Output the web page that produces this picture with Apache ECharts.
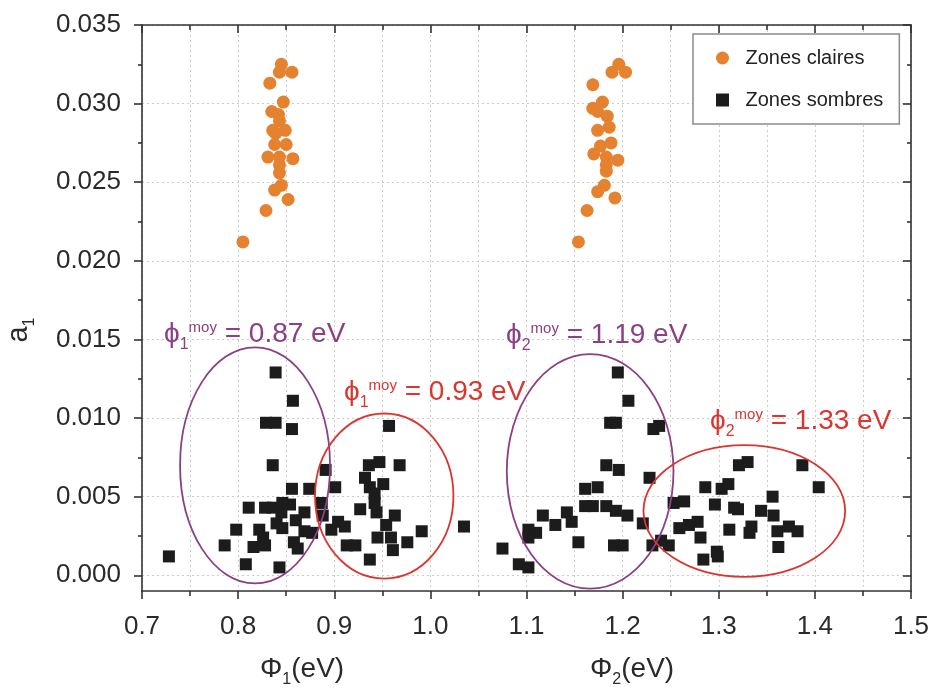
<!DOCTYPE html>
<html><head><meta charset="utf-8">
<script src="https://cdn.jsdelivr.net/npm/echarts@6/dist/echarts.min.js"></script>
<style>html,body{margin:0;padding:0;background:#fff}#c{width:933px;height:692px}</style>
</head><body><div id="c"></div>
<script>
const FONT = "'Liberation Sans', Arial, sans-serif";
const seriesNames = ['Zones claires', 'Zones sombres'];
const yMajorTicks = [0, 0.005, 0.010, 0.015, 0.020, 0.025, 0.030, 0.035];
const yMinorTicks = [0.0025, 0.0075, 0.0125, 0.0175, 0.0225, 0.0275, 0.0325];

const claires = [
  [0.845,0.0325],[0.843,0.0320],[0.856,0.0320],[0.833,0.0313],[0.847,0.0301],[0.835,0.0295],
  [0.842,0.0293],[0.843,0.0289],[0.836,0.0283],[0.849,0.0283],[0.839,0.0281],[0.838,0.0274],
  [0.850,0.0274],[0.831,0.0266],[0.843,0.0266],[0.857,0.0265],[0.843,0.0261],[0.843,0.0256],
  [0.845,0.0248],[0.838,0.0245],[0.852,0.0239],[0.829,0.0232],[0.805,0.0212],
  [1.196,0.0325],[1.189,0.0320],[1.203,0.0320],[1.169,0.0312],[1.179,0.0301],[1.169,0.0297],
  [1.174,0.0295],[1.184,0.0292],[1.186,0.0285],[1.174,0.0283],[1.188,0.0275],[1.177,0.0273],
  [1.170,0.0268],[1.183,0.0266],[1.195,0.0264],[1.183,0.0261],[1.183,0.0257],[1.181,0.0248],
  [1.174,0.0244],[1.192,0.0240],[1.163,0.0232],[1.154,0.0212]
];

const sombres = [
  [0.728,0.0012],[0.839,0.0129],[0.857,0.0111],[0.829,0.0097],[0.839,0.0097],[0.856,0.0093],
  [0.836,0.0070],[0.856,0.0055],[0.874,0.0055],[0.891,0.0067],[0.901,0.0056],[0.811,0.0043],
  [0.828,0.0043],[0.836,0.0043],[0.846,0.0046],[0.854,0.0045],[0.845,0.0040],[0.869,0.0040],
  [0.887,0.0046],[0.888,0.0038],[0.798,0.0029],[0.822,0.0029],[0.840,0.0033],[0.846,0.0030],
  [0.860,0.0035],[0.869,0.0028],[0.877,0.0027],[0.897,0.0029],[0.904,0.0034],[0.911,0.0031],
  [0.786,0.0019],[0.816,0.0018],[0.826,0.0024],[0.828,0.0019],[0.858,0.0021],[0.862,0.0017],
  [0.808,0.0007],[0.843,0.0005],[0.913,0.0019],[0.922,0.0019],[0.927,0.0042],[0.936,0.0070],
  [0.947,0.0072],[0.968,0.0070],[0.957,0.0095],[0.932,0.0062],[0.937,0.0056],[0.951,0.0058],
  [0.942,0.0052],[0.942,0.0046],[0.944,0.0040],[0.963,0.0038],[0.954,0.0032],[0.945,0.0024],
  [0.959,0.0024],[0.961,0.0016],[0.976,0.0021],[0.991,0.0028],[0.937,0.0010],[1.035,0.0031],
  [1.075,0.0017],[1.092,0.0007],[1.102,0.0005],[1.102,0.0029],[1.110,0.0027],[1.102,0.0024],
  [1.117,0.0038],[1.130,0.0032],[1.142,0.0040],[1.147,0.0034],[1.154,0.0021],[1.161,0.0055],
  [1.174,0.0056],[1.161,0.0044],[1.169,0.0044],[1.183,0.0044],[1.193,0.0041],[1.205,0.0038],
  [1.191,0.0019],[1.200,0.0019],[1.183,0.0070],[1.196,0.0067],[1.195,0.0129],[1.206,0.0111],
  [1.187,0.0097],[1.193,0.0097],[1.232,0.0093],[1.238,0.0095],[1.228,0.0062],[1.221,0.0033],
  [1.231,0.0019],[1.240,0.0022],[1.248,0.0019],[1.253,0.0046],[1.264,0.0047],[1.259,0.0030],
  [1.269,0.0032],[1.278,0.0034],[1.281,0.0024],[1.286,0.0056],[1.284,0.0010],[1.298,0.0015],
  [1.299,0.0012],[1.296,0.0045],[1.303,0.0055],[1.310,0.0058],[1.311,0.0029],[1.316,0.0043],
  [1.320,0.0042],[1.321,0.0070],[1.330,0.0072],[1.332,0.0027],[1.334,0.0031],[1.344,0.0041],
  [1.356,0.0050],[1.357,0.0038],[1.361,0.0028],[1.362,0.0018],[1.373,0.0031],[1.382,0.0028],
  [1.387,0.0070],[1.404,0.0056]
];

// ellipse annotations: [centerX, centerY, radiusX, radiusY] in data units
const ellipses = [
  [0.8176, 0.00699, 0.0780, 0.00751],
  [0.9520, 0.00504, 0.0720, 0.00525],
  [1.1662, 0.00661, 0.0867, 0.00746],
  [1.3266, 0.00409, 0.1049, 0.00419]
];
const annotationSub = ['1', '1', '2', '2'];
const annotationValues = ['0.87', '0.93', '1.19', '1.33'];

const PURPLE = '#8c3f82';
const RED = '#db3530';
const ellipseColors = [PURPLE, RED, PURPLE, RED];
const annotationPos = [[164, 334], [344, 392], [506, 335], [710, 421]];

const chart = echarts.init(document.getElementById('c'), null, {renderer: 'canvas'});

const axisLineStyle = {color: '#333', width: 1.6};
const gridLineStyle = {color: '#cccccc', type: [2, 3], width: 1};

function annotText(i) {
  return {
    type: 'text', x: annotationPos[i][0], y: annotationPos[i][1], z: 100,
    style: {
      text: '{p|ϕ}{s|' + annotationSub[i] + '}{u|moy}{t| = ' + annotationValues[i] + ' eV}',
      verticalAlign: 'middle', align: 'left',
      rich: {
        p: {fontSize: 28, fontFamily: FONT, fill: ellipseColors[i]},
        s: {fontSize: 16, fontFamily: FONT, fill: ellipseColors[i], padding: [22, 0, 0, 0]},
        u: {fontSize: 15, fontFamily: FONT, fill: ellipseColors[i], padding: [0, 0, 12, 0]},
        t: {fontSize: 28, fontFamily: FONT, fill: ellipseColors[i], lineHeight: 44}
      }
    }
  };
}

function axisNameText(x, sub) {
  return {
    type: 'text', x: x, y: 669,
    style: {
      text: '{b|Φ}{s|' + sub + '}{b|(eV)}',
      verticalAlign: 'middle', align: 'left',
      rich: {
        b: {fontSize: 28, fontFamily: FONT, fill: '#2a2a2a', lineHeight: 44},
        s: {fontSize: 16, fontFamily: FONT, fill: '#2a2a2a', padding: [22, 0, 0, 0]}
      }
    }
  };
}

const option = {
  backgroundColor: '#fff',
  animation: false,
  grid: {left: 142, right: 22, top: 25, bottom: 101, containLabel: false},
  legend: {
    orient: 'vertical', left: 693, top: 34,
    padding: [14, 16, 14, 23], itemGap: 22,
    itemWidth: 36, itemHeight: 13,
    borderColor: '#8a8a8a', borderWidth: 1.5, backgroundColor: '#fff',
    symbolKeepAspect: true,
    textStyle: {fontSize: 20, color: '#222', fontFamily: FONT},
    data: [
      {name: seriesNames[0], icon: 'circle'},
      {name: seriesNames[1], icon: 'path://M0,0H10V10H0Z'}
    ],
    z: 50
  },
  xAxis: [
    {
      type: 'value', position: 'bottom', min: 0.7, max: 1.5, interval: 0.1,
      axisLine: {show: true, onZero: false, lineStyle: axisLineStyle},
      axisTick: {show: true, inside: false, length: 8, lineStyle: axisLineStyle},
      minorTick: {show: true, splitNumber: 2, length: 5, lineStyle: axisLineStyle},
      splitLine: {show: true, lineStyle: gridLineStyle},
      minorSplitLine: {show: true, lineStyle: gridLineStyle},
      axisLabel: {fontSize: 26, color: '#2a2a2a', fontFamily: FONT, margin: 23,
        formatter: v => v.toFixed(1)}
    },
    {
      type: 'value', position: 'top', min: 0.7, max: 1.5, interval: 0.1,
      axisLine: {show: true, onZero: false, lineStyle: axisLineStyle},
      axisTick: {show: true, inside: true, length: 8, lineStyle: axisLineStyle},
      minorTick: {show: true, splitNumber: 2, length: 5, lineStyle: axisLineStyle},
      splitLine: {show: false}, axisLabel: {show: false}
    }
  ],
  yAxis: [
    {
      type: 'value', position: 'left', min: -0.001, max: 0.035,
      axisLine: {show: true, onZero: false, lineStyle: axisLineStyle},
      axisTick: {show: true, inside: false, length: 8, lineStyle: axisLineStyle, customValues: yMajorTicks},
      splitLine: {show: true, lineStyle: gridLineStyle},
      axisLabel: {fontSize: 26, color: '#2a2a2a', fontFamily: FONT, margin: 21,
        customValues: yMajorTicks, formatter: v => v.toFixed(3)}
    },
    {
      type: 'value', position: 'left', min: -0.001, max: 0.035,
      axisLine: {show: false, onZero: false},
      axisTick: {show: true, inside: false, length: 4, lineStyle: axisLineStyle, customValues: yMinorTicks},
      splitLine: {show: false}, axisLabel: {show: false}
    },
    {
      type: 'value', position: 'right', min: -0.001, max: 0.035,
      axisLine: {show: true, onZero: false, lineStyle: axisLineStyle},
      axisTick: {show: true, inside: true, length: 8, lineStyle: axisLineStyle, customValues: yMajorTicks},
      splitLine: {show: false}, axisLabel: {show: false}
    },
    {
      type: 'value', position: 'right', min: -0.001, max: 0.035,
      axisLine: {show: false, onZero: false},
      axisTick: {show: true, inside: true, length: 4, lineStyle: axisLineStyle, customValues: yMinorTicks},
      splitLine: {show: false}, axisLabel: {show: false}
    }
  ],
  series: [
    {
      name: seriesNames[0], type: 'scatter', xAxisIndex: 0, yAxisIndex: 0,
      symbol: 'circle', symbolSize: 13, clip: false,
      itemStyle: {color: '#e5822f', opacity: 1},
      data: claires, z: 3
    },
    {
      name: seriesNames[1], type: 'scatter', xAxisIndex: 0, yAxisIndex: 0,
      symbol: 'rect', symbolSize: 12, clip: false,
      itemStyle: {color: '#1c1c1c', opacity: 1},
      data: sombres, z: 3
    },
    {
      name: 'ellipses', type: 'custom', xAxisIndex: 0, yAxisIndex: 0,
      data: ellipses, z: 5, silent: true,
      renderItem: function (params, api) {
        const c = api.coord([api.value(0), api.value(1)]);
        const s = api.size([api.value(2), api.value(3)]);
        return {
          type: 'ellipse',
          shape: {cx: c[0], cy: c[1], rx: s[0], ry: s[1]},
          style: {fill: 'none', stroke: ellipseColors[params.dataIndex], lineWidth: 1.8}
        };
      }
    }
  ],
  graphic: [
    annotText(0), annotText(1), annotText(2), annotText(3),
    axisNameText(260, '1'), axisNameText(590, '2'),
    {
      type: 'text', x: 19, y: 330, rotation: Math.PI / 2,
      style: {
        text: '{a|a}{s|1}', align: 'center', verticalAlign: 'middle',
        rich: {
          a: {fontSize: 29, fontFamily: FONT, fill: '#2a2a2a', lineHeight: 44},
          s: {fontSize: 16, fontFamily: FONT, fill: '#2a2a2a', padding: [22, 0, 0, 0]}
        }
      }
    }
  ]
};
chart.setOption(option);
</script></body></html>
